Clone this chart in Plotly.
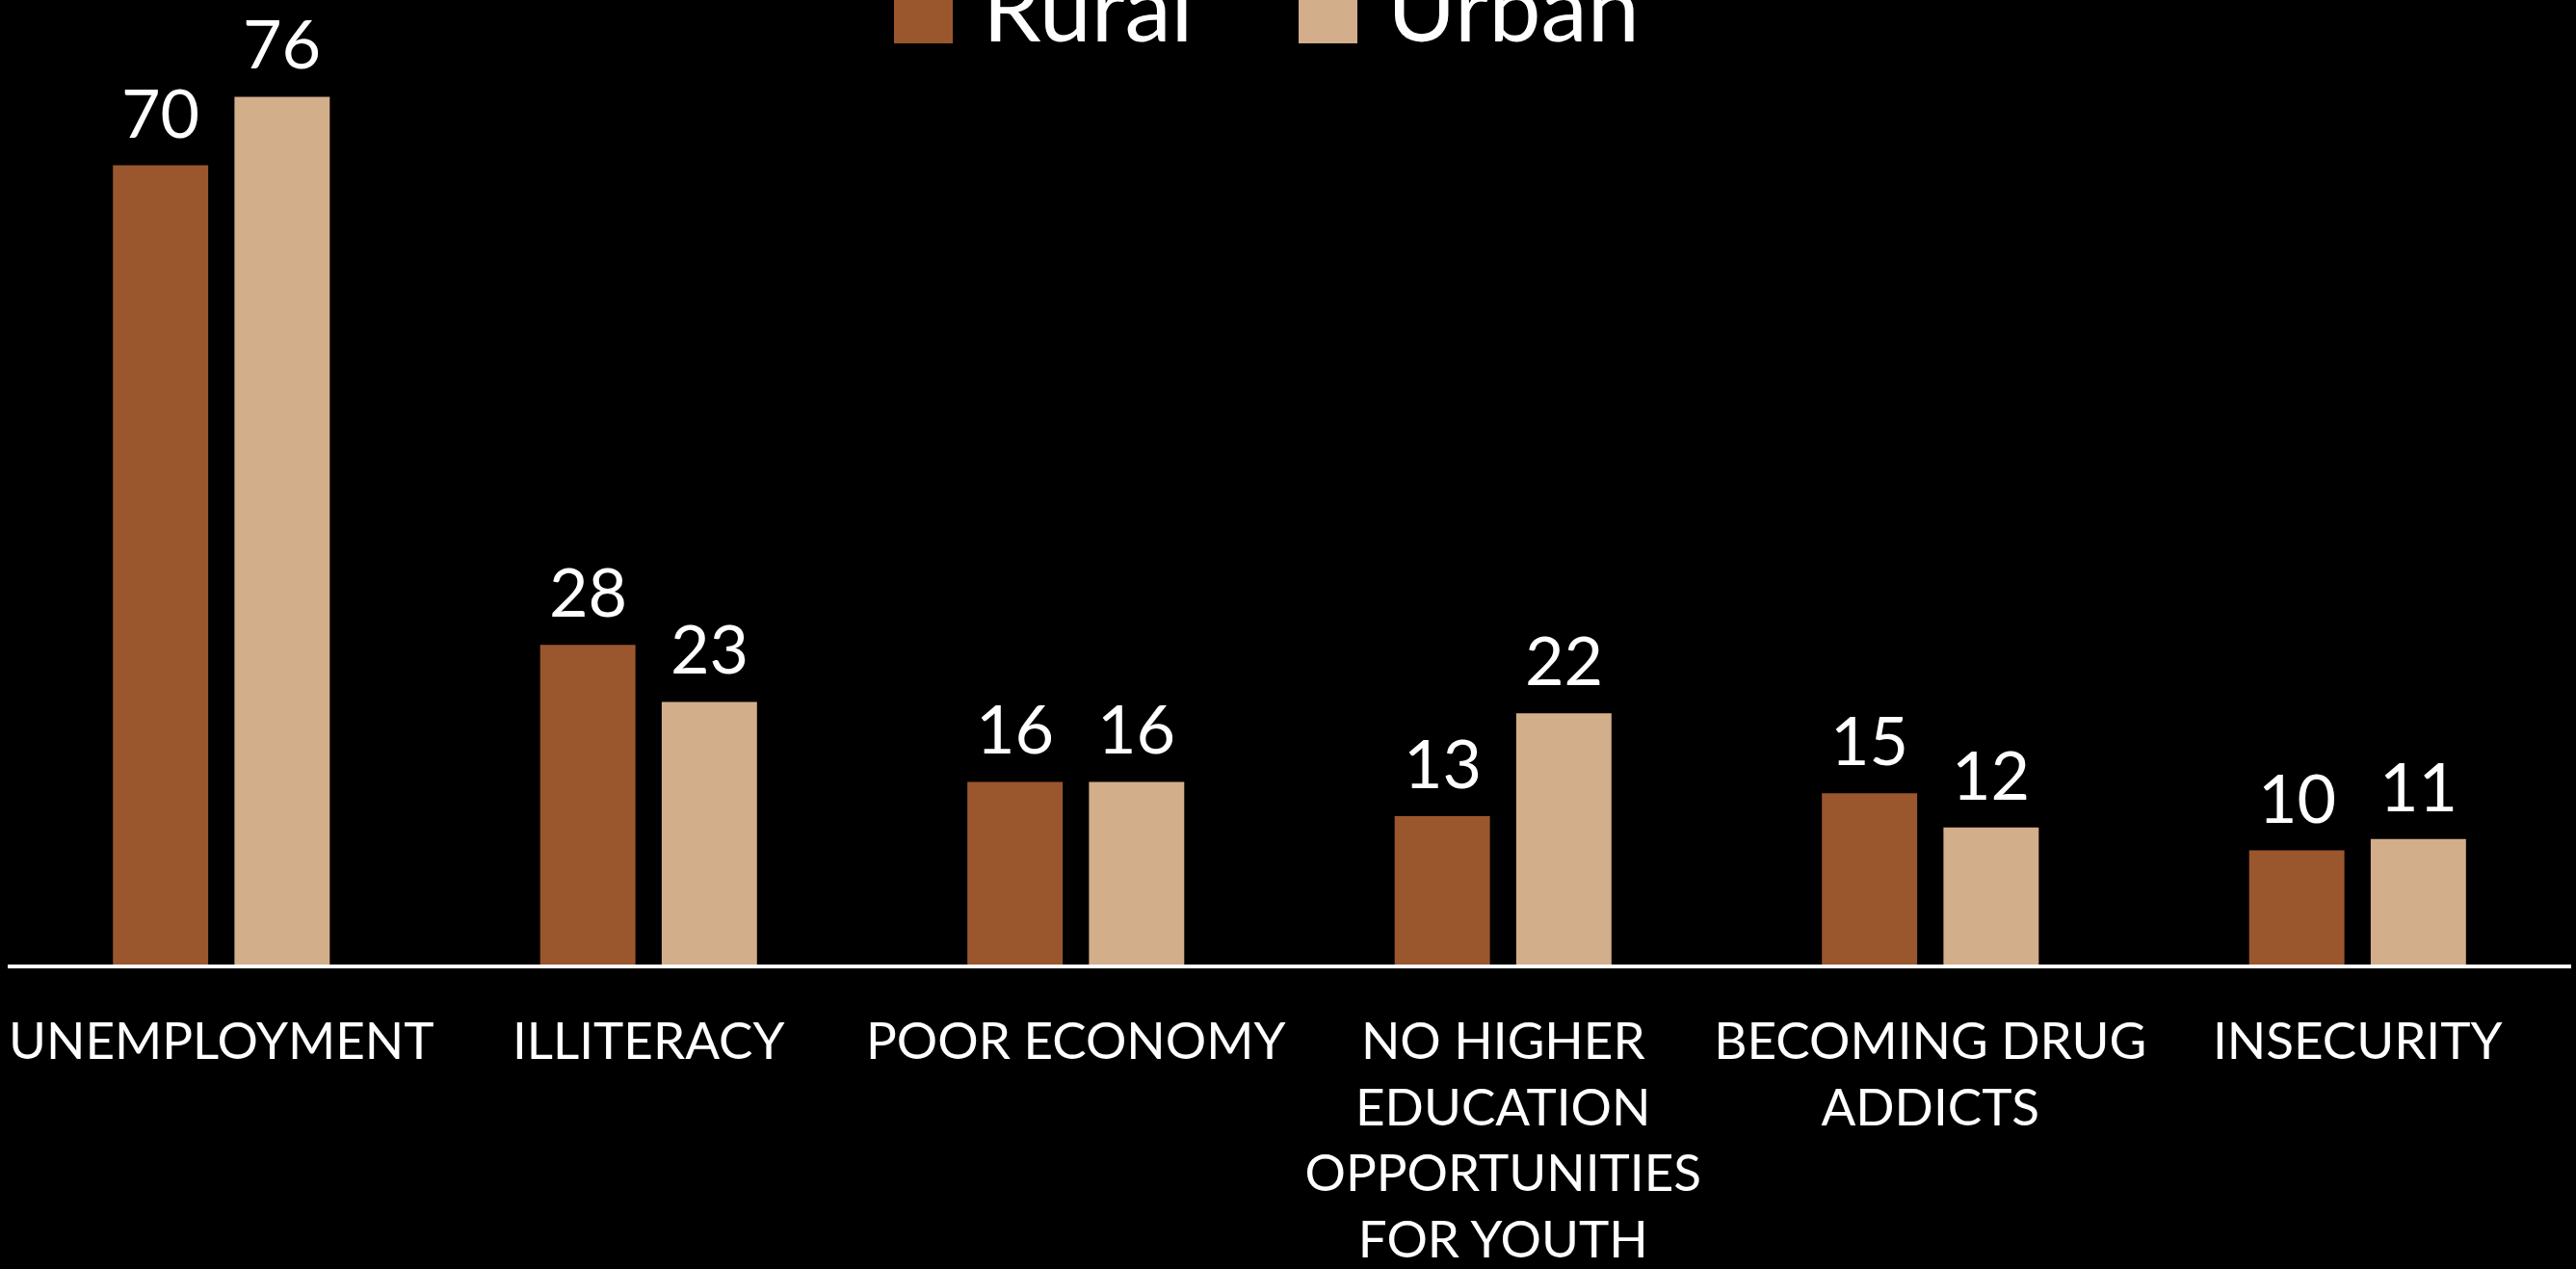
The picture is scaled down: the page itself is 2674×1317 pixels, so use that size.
import plotly.graph_objects as go

categories = [
    "UNEMPLOYMENT",
    "ILLITERACY",
    "POOR ECONOMY",
    "NO HIGHER<br>EDUCATION<br>OPPORTUNITIES<br>FOR YOUTH",
    "BECOMING DRUG<br>ADDICTS",
    "INSECURITY",
]
rural = [70, 28, 16, 13, 15, 10]
urban = [76, 23, 16, 22, 12, 11]
series_names = ["Rural", "Urban"]
colors = ["#9A572D", "#D2AE8A"]

W, H = 2674, 1317
M = dict(l=8, r=5, t=53, b=316)
FONT = "Lato"
BARGAP, GROUPGAP = 0.431, 0.216


def px_to_paper(x, y):
    # convert page pixel position to paper coords of the plot area
    pw = W - M["l"] - M["r"]
    ph = H - M["t"] - M["b"]
    return (x - M["l"]) / pw, (H - M["b"] - y) / ph


fig = go.Figure()
for name, vals, col in zip(series_names, [rural, urban], colors):
    fig.add_trace(go.Bar(
        x=categories, y=vals, name=name,
        marker=dict(color=col, line=dict(width=0)),
        showlegend=False,
    ))

# value labels sit a bit higher than plotly's outside text would put them
cat_w = (W - M["l"] - M["r"]) / len(categories)
slot = cat_w * (1 - BARGAP) / 2
for k, vals in enumerate([rural, urban]):
    shift = (k - 0.5) * slot
    for c, v in zip(categories, vals):
        fig.add_annotation(x=c, y=v, xshift=shift, yshift=12,
                           xanchor="center", yanchor="bottom", showarrow=False,
                           text=str(v), font=dict(family=FONT, size=70, color="white"))

# hand-made legend: big squares plus text, top centre
legend_items = [(1018 - 90, 1018), (1438 - 90, 1438)]
for (sq_x, txt_x), name, col in zip(legend_items, series_names, colors):
    x0, y0 = px_to_paper(sq_x, 45)
    x1, y1 = px_to_paper(sq_x + 61, -16)
    fig.add_shape(type="rect", xref="paper", yref="paper",
                  x0=x0, x1=x1, y0=y0, y1=y1,
                  fillcolor=col, line=dict(width=0), layer="above")
    tx, ty = px_to_paper(txt_x, 66)
    fig.add_annotation(xref="paper", yref="paper", x=tx, y=ty,
                       xanchor="left", yanchor="bottom", showarrow=False,
                       text=name, font=dict(family=FONT, size=97, color="white"))

fig.update_layout(
    width=W, height=H, margin=M,
    paper_bgcolor="black", plot_bgcolor="black",
    barmode="group", bargap=BARGAP, bargroupgap=GROUPGAP,
    font=dict(family=FONT, color="white"),
    xaxis=dict(showline=True, linecolor="white", linewidth=4, automargin=False,
               tickfont=dict(family=FONT, size=53, color="white"),
               ticks="", showgrid=False, ticklabelstandoff=30),
    yaxis=dict(range=[0, 80], visible=False, showgrid=False, zeroline=False),
)

fig.write_html("out.html", config={"displayModeBar": False},
               post_script="document.body.style.margin='0';document.body.style.background='black';")
